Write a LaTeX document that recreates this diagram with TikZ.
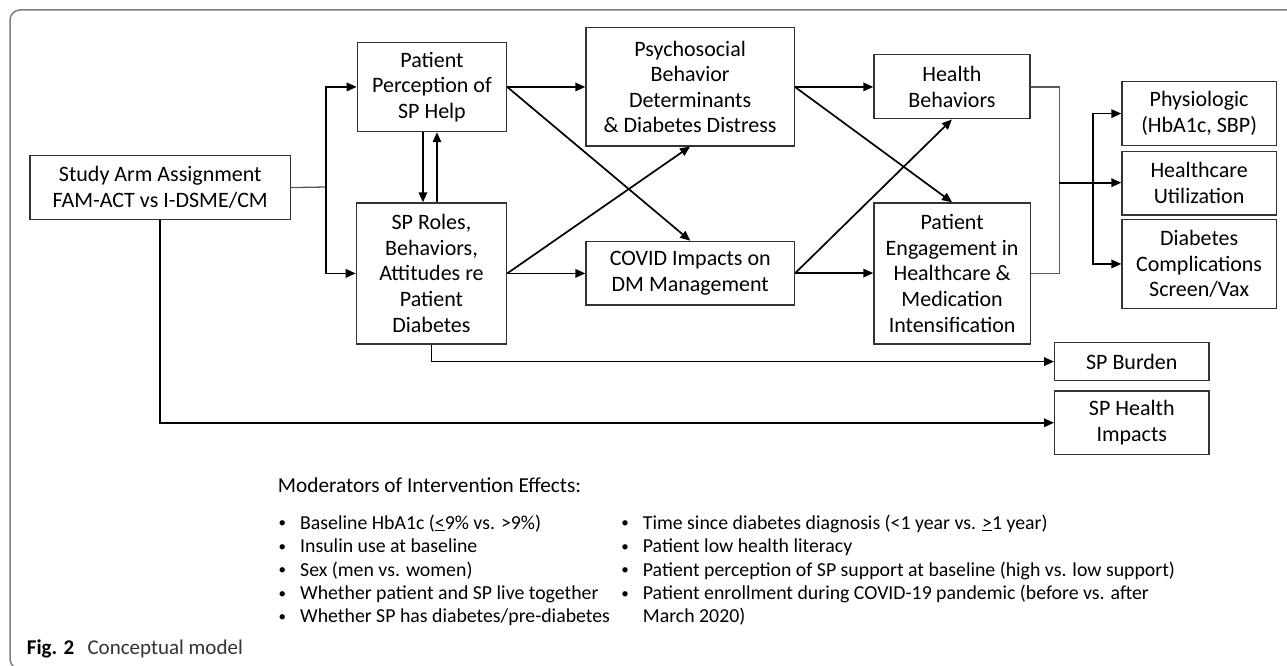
\documentclass[tikz,border=0pt]{standalone}
\usepackage{fontspec}
\setmainfont{Carlito}
\usetikzlibrary{arrows.meta}
\definecolor{boxc}{HTML}{333333}
\definecolor{linkc}{HTML}{5A5A5A}
\definecolor{framec}{HTML}{7F7F7F}
\definecolor{captc}{HTML}{333333}
\newcommand\bul{\makebox[0pt][r]{\raisebox{1.2pt}{\fontsize{15}{15}\selectfont•}\hspace{14pt}}}
\begin{document}
\begin{tikzpicture}[x=1pt,y=-1pt,
  box/.style={draw=boxc, line width=1.2pt, inner sep=0pt, align=center,
    font=\fontsize{22}{25.6}\selectfont, anchor=north west},
  arr/.style={draw=black, line width=1.7pt, -{Triangle[length=10pt,width=8.5pt]}},
  link/.style={draw=linkc, line width=1.3pt},
  mod/.style={anchor=base west, inner sep=0pt, font=\fontsize{19.8}{23.4}\selectfont},
  captext/.style={anchor=base west, inner sep=0pt, font=\fontsize{21}{25}\selectfont},
  framel/.style={draw=framec, line width=1.5pt, rounded corners=10pt}
]
\useasboundingbox[fill=white] (0,0) rectangle (1287,666);
\draw[framel] (1300,10) -- (10,10) -- (10,669) -- (40,669);

% boxes
\node[box, minimum width=260.7pt, minimum height=64pt] (arm) at (29.3,155) {Study Arm Assignment\\FAM-ACT vs I-DSME/CM};
\node[box, minimum width=149.3pt, minimum height=89.3pt] (pp) at (356.7,41.7) {Patient\\Perception of\\SP Help};
\node[box, minimum width=150.3pt, minimum height=141pt] (roles) at (355.7,202.3) {SP Roles,\\Behaviors,\\Attitudes re\\Patient\\Diabetes};
\node[box, minimum width=208.4pt, minimum height=118pt] (psy) at (585.3,27.3) {Psychosocial\\Behavior\\Determinants\\\& Diabetes Distress};
\node[box, minimum width=208.7pt, minimum height=63.6pt] (covid) at (585.3,240.7) {COVID Impacts on\\DM Management};
\node[box, minimum width=156pt, minimum height=64pt] (hb) at (873.3,54.3) {Health\\Behaviors};
\node[box, minimum width=156.4pt, minimum height=141pt] (pe) at (873.3,202.3) {Patient\\Engagement in\\Healthcare \&\\Medication\\Intensification};
\node[box, minimum width=154.4pt, minimum height=64pt] (phys) at (1121.3,81) {Physiologic\\(HbA1c, SBP)};
\node[box, minimum width=154.4pt, minimum height=63.6pt] (hcu) at (1121.3,150.7) {Healthcare\\Utilization};
\node[box, minimum width=154.4pt, minimum height=89.3pt] (dcs) at (1121.3,218.7) {Diabetes\\Complications\\Screen/Vax};
\node[box, minimum width=154.3pt, minimum height=38pt] (burden) at (1054,342) {SP Burden};
\node[box, minimum width=154.3pt, minimum height=63.7pt] (spimp) at (1054,390.3) {SP Health\\Impacts};

% connectors
\coordinate (s1) at (325.7,187);
\draw[link] (arm.east) -- (s1);
\draw[arr] (s1) |- (pp.west);
\draw[arr] (s1) |- (roles.west);
\coordinate (d1) at ([xshift=-9pt]pp.south);
\draw[arr] (d1) -- (d1 |- roles.north);
\coordinate (u1) at ([xshift=5.5pt]roles.north);
\draw[arr] (u1) -- (u1 |- pp.south);
\draw[arr] (pp.east) -- (pp.east -| psy.west);
\draw[arr] (pp.east) -- (covid.north);
\draw[arr] (roles.east) -- (psy.south);
\draw[arr] (roles.east) -- (roles.east -| covid.west);
\draw[arr] (psy.east) -- (psy.east -| hb.west);
\draw[arr] (psy.east) -- (pe.north);
\draw[arr] (covid.east) -- (hb.south);
\draw[arr] (covid.east) -- (covid.east -| pe.west);
\coordinate (m) at (1059.3,182.7);
\draw[link] (hb.east) -| (m);
\draw[link] (pe.east) -| (m);
\draw[arr] (m) -- (m -| hcu.west);
\coordinate (s2) at (1093.3,182.7);
\draw[arr] (s2) |- (phys.west);
\draw[arr] (s2) |- (dcs.west);
\draw[arr] (roles.south) |- (burden.west);
\draw[arr] (arm.south) |- (spimp.west);

% moderators
\node[mod, font=\fontsize{21.3}{25}\selectfont] (modt) at (277.7,492.7) {Moderators of Intervention Effects:};
\node[mod] (a1) at (300,529) {\bul Baseline HbA1c (\underline{<}9\% vs. >9\%)};
\node[mod] (a2) at (300,552.3) {\bul Insulin use at baseline};
\node[mod] (a3) at (300,576) {\bul Sex (men vs. women)};
\node[mod] (a4) at (300,599.3) {\bul Whether patient and SP live together};
\node[mod] (a5) at (300,622.7) {\bul Whether SP has diabetes/pre-diabetes};
\node[mod] (b1) at (642.7,529) {\bul Time since diabetes diagnosis (<1 year vs. \underline{>}1 year)};
\node[mod] (b2) at (642.7,552.3) {\bul Patient low health literacy};
\node[mod] (b3) at (642.7,576) {\bul Patient perception of SP support at baseline (high vs. low support)};
\node[mod] (b4) at (642.7,599.3) {\bul Patient enrollment during COVID-19 pandemic (before vs. after};
\node[mod] (b5) at (642.7,622.7) {March 2020)};

% caption
\node[captext, font=\fontsize{21}{25}\selectfont\bfseries] (figlab) at (26.7,654) {Fig. 2};
\node[captext, text=captc] (figcap) at (87.3,654) {Conceptual model};
\end{tikzpicture}
\end{document}
